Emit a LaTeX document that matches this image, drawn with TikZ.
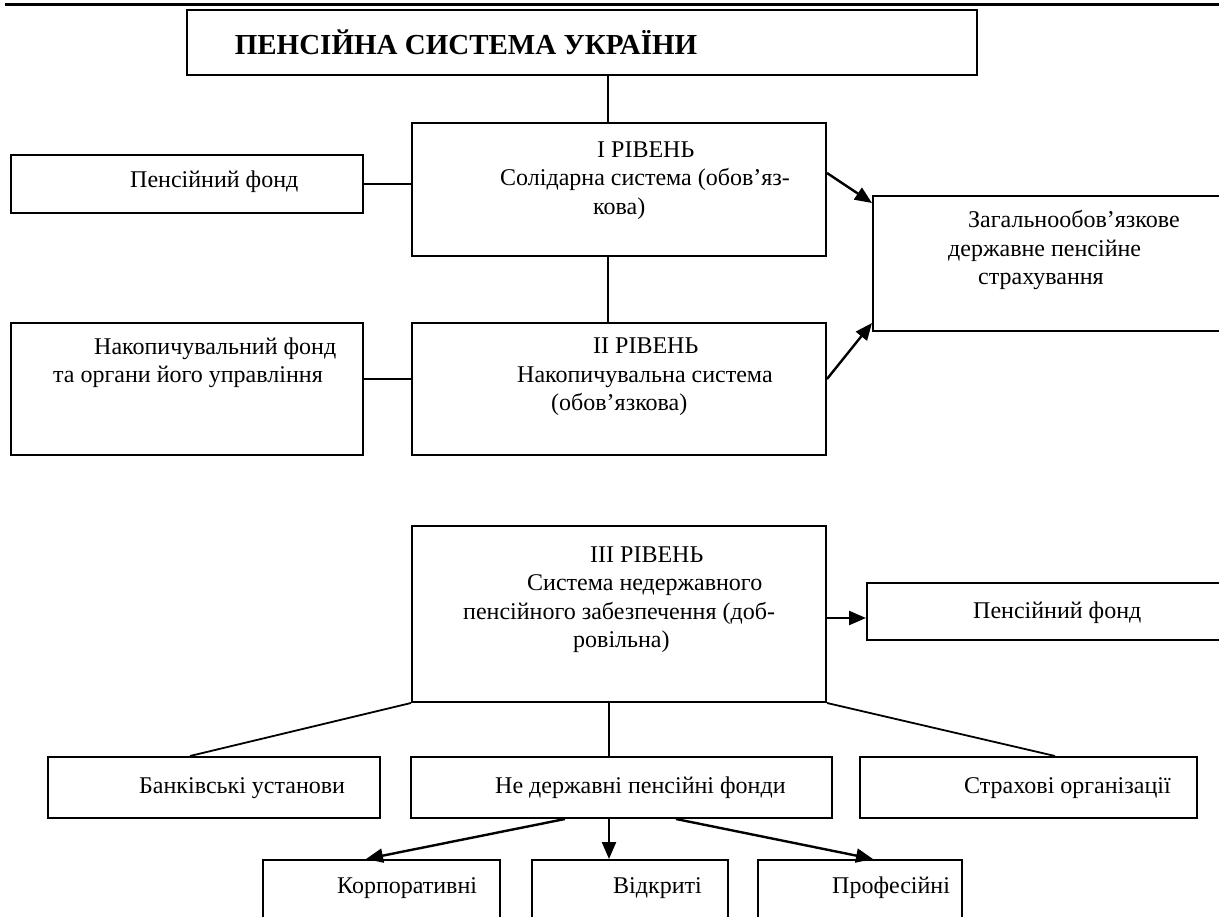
\documentclass[tikz,border=0pt]{standalone}
\usepackage{fontspec}
\setmainfont{Liberation Serif}
\usetikzlibrary{arrows.meta}
\begin{document}
\begin{tikzpicture}[x=1pt,y=-1pt,
  box/.style={draw, line width=2pt, rectangle, inner sep=0pt},
  conn/.style={line width=1.8pt},
  arr/.style={line width=2.4pt, -{Triangle[length=17pt,width=14pt]}},
  txt/.style={anchor=base west, inner sep=0pt, font=\fontsize{24}{29}\selectfont},
]
\useasboundingbox (0,0) rectangle (1219,917);
\clip (0,0) rectangle (1219,917);
\fill[white] (0,0) rectangle (1219,917);
% header rule
\draw[line width=3pt] (5,5) -- (1219,5);
% boxes
\node[box, minimum width=790pt, minimum height=65pt] (top) at (582,42.5) {};
\node[box, minimum width=414pt, minimum height=133pt] (boxI) at (619,189.5) {};
\node[box, minimum width=414pt, minimum height=132pt] (boxII) at (619,389) {};
\node[box, minimum width=414pt, minimum height=176pt] (boxIII) at (619,614) {};
\node[box, minimum width=352pt, minimum height=58pt] (pf) at (187,184) {};
\node[box, minimum width=352pt, minimum height=132pt] (nf) at (187,389) {};
\node[box, minimum width=367pt, minimum height=135pt] (zdps) at (1056.5,263.5) {};
\node[box, minimum width=373pt, minimum height=57pt] (pf2) at (1053.5,611.5) {};
\node[box, minimum width=332pt, minimum height=61pt] (bank) at (214,787.5) {};
\node[box, minimum width=421pt, minimum height=61pt] (ndpf) at (621.5,787.5) {};
\node[box, minimum width=337pt, minimum height=61pt] (strakh) at (1028.5,787.5) {};
\node[box, minimum width=237pt, minimum height=80pt] (korp) at (381.5,900) {};
\node[box, minimum width=196pt, minimum height=80pt] (vidk) at (630,900) {};
\node[box, minimum width=204pt, minimum height=80pt] (prof) at (860,900) {};
% connectors
\draw[conn] ([xshift=26pt]top.south) -- ([xshift=-11pt]boxI.north);
\draw[conn] ([xshift=-11pt]boxI.south) -- ([xshift=-11pt]boxII.north);
\draw[conn] (pf.east) -- (pf.east -| boxI.west);
\draw[conn] ([yshift=10pt]nf.east) -- ([yshift=10pt]nf.east -| boxII.west);
\draw[arr] ([yshift=16.5pt]boxI.east) -- ([yshift=60.5pt]zdps.west);
\draw[arr] ([yshift=10pt]boxII.east) -- ([yshift=-59.5pt]zdps.west);
\draw[arr] ([yshift=-4pt]boxIII.east) -- ([yshift=-4pt]boxIII.east -| pf2.west);
\draw[conn] (boxIII.south west) -- ([xshift=-24pt]bank.north);
\draw[conn] ([xshift=-10pt]boxIII.south) -- ([xshift=-10pt]boxIII.south |- ndpf.north);
\draw[conn] (boxIII.south east) -- ([xshift=26.5pt]strakh.north);
\draw[arr] ([xshift=-56.5pt]ndpf.south) -- ([xshift=-15.5pt]korp.north);
\draw[arr] ([xshift=-12.5pt]ndpf.south) -- ([xshift=-12.5pt]ndpf.south |- vidk.north);
\draw[arr] ([xshift=54.5pt]ndpf.south) -- ([xshift=13pt]prof.north);
% texts
\node[anchor=base, inner sep=0pt, font=\fontsize{29}{33}\selectfont\bfseries] (title) at (466,54.5) {ПЕНСІЙНА СИСТЕМА УКРАЇНИ};
\node[txt] (t1a) at (597,158) {I РІВЕНЬ};
\node[txt] (t1b) at (500,186) {Солідарна система (обов’яз-};
\node[txt] (t1c) at (593,215) {кова)};
\node[txt] (t2a) at (593,354) {II РІВЕНЬ};
\node[txt] (t2b) at (517,383) {Накопичувальна система};
\node[txt] (t2c) at (551,410) {(обов’язкова)};
\node[txt] (t3a) at (590,562) {III РІВЕНЬ};
\node[txt] (t3b) at (527,590) {Система недержавного};
\node[txt] (t3c) at (463,619) {пенсійного забезпечення (доб-};
\node[txt] (t3d) at (573,647) {ровільна)};
\node[txt] (pft) at (130,188) {Пенсійний фонд};
\node[txt] (nft1) at (94,355) {Накопичувальний фонд};
\node[txt] (nft2) at (53,383) {та органи його управління};
\node[txt] (z1) at (968,228) {Загальнообов’язкове};
\node[txt] (z2) at (948,257) {державне пенсійне};
\node[txt] (z3) at (978,285) {страхування};
\node[txt] (pf2t) at (973,618) {Пенсійний фонд};
\node[txt] (bankt) at (139,793) {Банківські установи};
\node[txt] (ndpft) at (495,793) {Не державні пенсійні фонди};
\node[txt] (strt) at (964,793) {Страхові організації};
\node[txt] (korpt) at (337,893) {Корпоративні};
\node[txt] (vidkt) at (613,893) {Відкриті};
\node[txt] (proft) at (832,893) {Професійні};
\end{tikzpicture}
\end{document}
